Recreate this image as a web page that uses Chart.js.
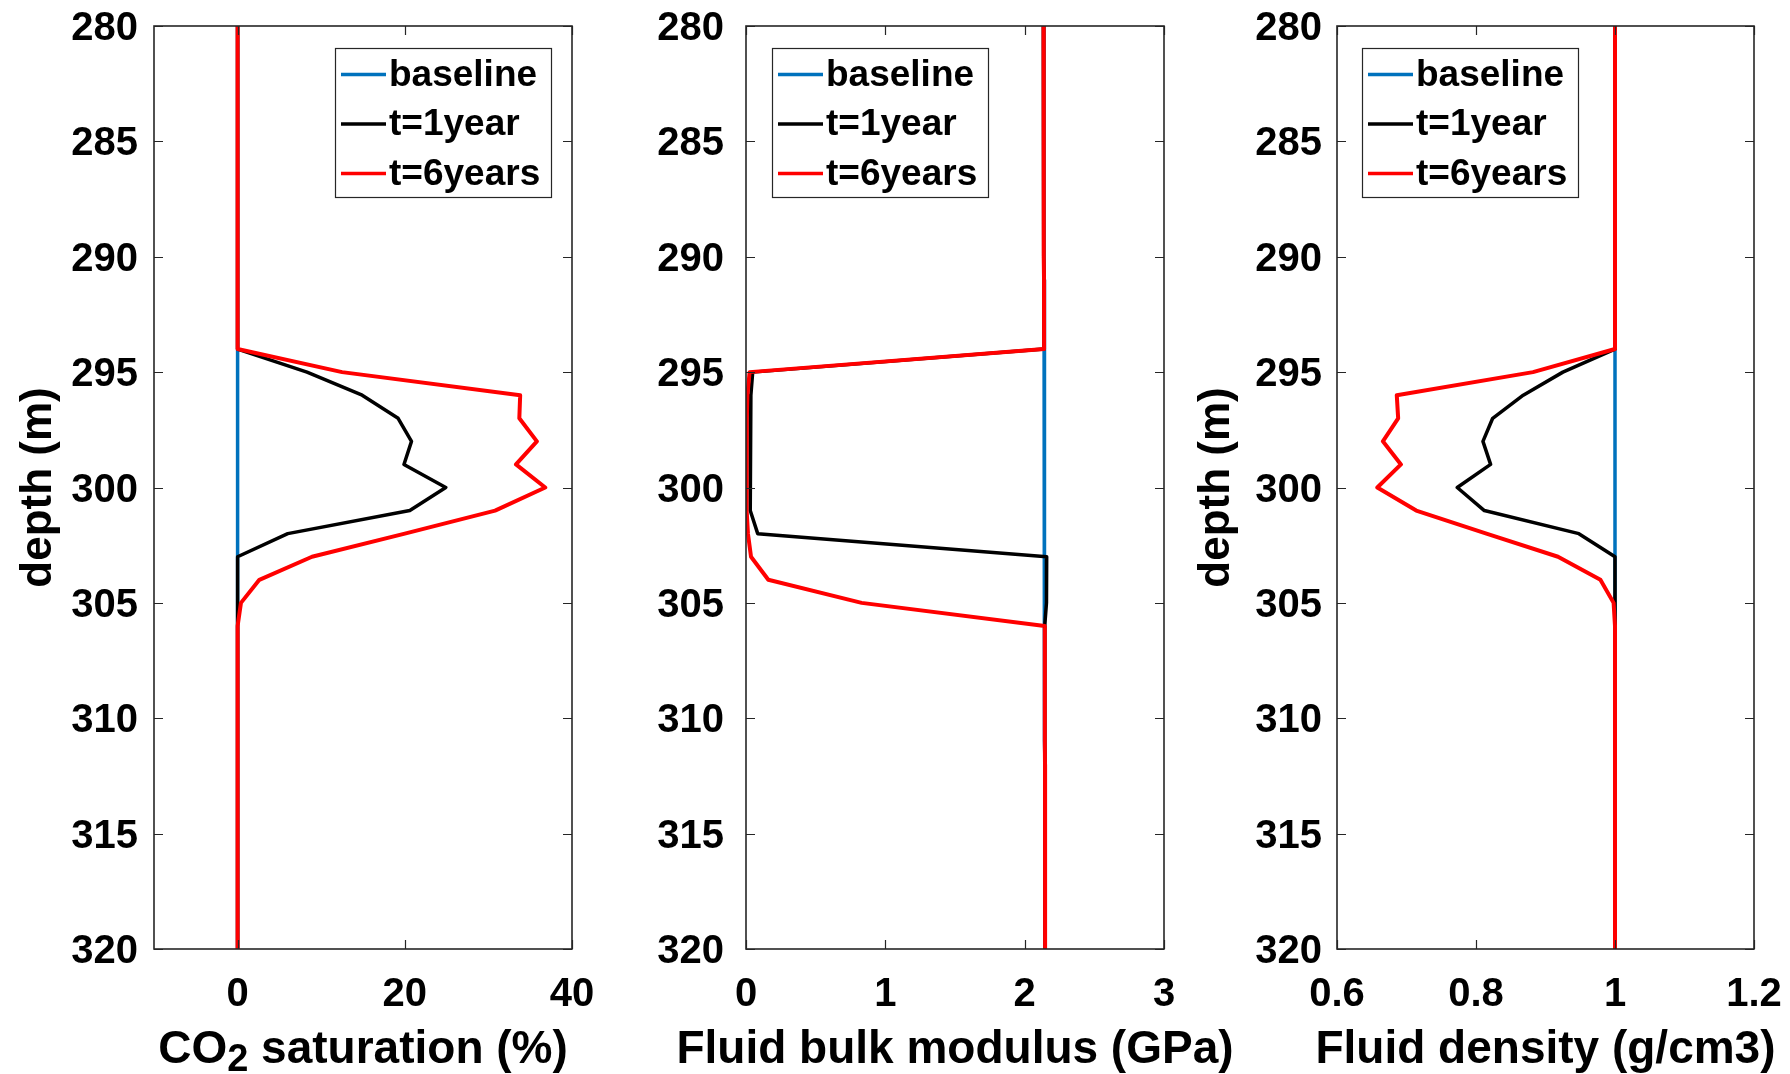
<!DOCTYPE html>
<html>
<head>
<meta charset="utf-8">
<script src="https://cdn.jsdelivr.net/npm/chart.js@4.4.1/dist/chart.umd.min.js"></script>
<style>
html,body{margin:0;padding:0;background:#fff;}
#wrap{position:relative;width:1790px;height:1074px;background:#fff;}
#wrap canvas{position:absolute;left:0;top:0;}
</style>
</head>
<body>
<div id="wrap">
<canvas id="c1" width="1790" height="1074"></canvas>
<canvas id="c2" width="1790" height="1074"></canvas>
<canvas id="c3" width="1790" height="1074"></canvas>
</div>
<script>
// ---------------- DATA ----------------
const depth = [280,281,282,283,284,285,286,287,288,289,290,291,292,293,294,295,296,297,298,299,300,
               301,302,303,304,305,306,307,308,309,310,311,312,313,314,315,316,317,318,319,320];
const seriesLabels = ['baseline', 't=1year', 't=6years'];

// CO2 saturation (%)
const satBaseline = [0,0,0,0,0,0,0,0,0,0,0,0,0,0,0,0,0,0,0,0,0,0,0,0,0,0,0,0,0,0,0,0,0,0,0,0,0,0,0,0,0];
const satYear1    = [0,0,0,0,0,0,0,0,0,0,0,0,0,0,0,8.3,14.9,19.2,20.8,19.9,24.9,20.6,6.0,0,0,0,0,0,0,0,0,0,0,0,0,0,0,0,0,0,0];
const satYear6    = [0,0,0,0,0,0,0,0,0,0,0,0,0,0,0,12.5,33.8,33.7,35.8,33.3,36.8,30.8,20.0,8.9,2.6,0.4,0,0,0,0,0,0,0,0,0,0,0,0,0,0,0];

// Fluid bulk modulus (GPa)
const bulkBaseline = [2.135,2.135,2.136,2.136,2.136,2.137,2.137,2.137,2.138,2.138,2.138,2.139,2.139,2.139,2.140,2.140,2.140,2.141,2.141,2.141,2.142,
                      2.142,2.142,2.143,2.143,2.143,2.144,2.144,2.144,2.145,2.145,2.145,2.146,2.146,2.146,2.146,2.147,2.147,2.147,2.147,2.147];
const bulkYear1    = [2.135,2.135,2.136,2.136,2.136,2.137,2.137,2.137,2.138,2.138,2.138,2.139,2.139,2.139,2.140,0.048,0.035,0.032,0.031,0.030,0.029,
                      0.030,0.084,2.158,2.157,2.156,2.144,2.144,2.144,2.145,2.145,2.145,2.146,2.146,2.146,2.146,2.147,2.147,2.147,2.147,2.147];
const bulkYear6    = [2.135,2.135,2.136,2.136,2.136,2.137,2.137,2.137,2.138,2.138,2.138,2.139,2.139,2.139,2.140,0.026,0.010,0.006,0.005,0.004,0.004,
                      0.006,0.014,0.036,0.160,0.830,2.144,2.144,2.144,2.145,2.145,2.145,2.146,2.146,2.146,2.146,2.147,2.147,2.147,2.147,2.147];

// Fluid density (g/cm3)
const densBaseline = [1,1,1,1,1,1,1,1,1,1,1,1,1,1,1,1,1,1,1,1,1,1,1,1,1,1,1,1,1,1,1,1,1,1,1,1,1,1,1,1,1];
const densYear1    = [1,1,1,1,1,1,1,1,1,1,1,1,1,1,1,0.925,0.868,0.824,0.810,0.821,0.773,0.812,0.948,1,1,1,1,1,1,1,1,1,1,1,1,1,1,1,1,1,1];
const densYear6    = [1,1,1,1,1,1,1,1,1,1,1,1,1,1,1,0.882,0.686,0.688,0.666,0.692,0.658,0.714,0.815,0.918,0.979,0.998,1,1,1,1,1,1,1,1,1,1,1,1,1,1,1];

// Ticks
const yTicks = [280,285,290,295,300,305,310,315,320];
const yTickLabels = ['280','285','290','295','300','305','310','315','320'];
const satTicks = [0,20,40];
const satTickLabels = ['0','20','40'];
const bulkTicks = [0,1,2,3];
const bulkTickLabels = ['0','1','2','3'];
const densTicks = [0.6,0.8,1.0,1.2];
const densTickLabels = ['0.6','0.8','1','1.2'];

// Axis titles
const yTitleText = 'depth (m)';
const satTitleParts = [{t: 'CO'}, {t: '2', sub: true}, {t: ' saturation (%)'}];
const bulkTitleParts = [{t: 'Fluid bulk modulus (GPa)'}];
const densTitleParts = [{t: 'Fluid density (g/cm3)'}];

// ---------------- STYLE ----------------
const FONT = '"Liberation Sans", Arial, Helvetica, sans-serif';
const COLORS = ['#0072BD', '#000000', '#FF0000'];
const WIDTHS = [3.5, 3.5, 4];
const FRAME = '#262626';

const framePlugin = {
  id: 'frameTicks',
  afterDatasetsDraw(chart) {
    const {ctx, chartArea: a, scales: {x, y}} = chart;
    ctx.save();
    ctx.strokeStyle = FRAME;
    ctx.lineWidth = 1.2;
    ctx.beginPath();
    x.ticks.forEach(t => {
      const p = Math.round(x.getPixelForValue(t.value)) + 0.5;
      ctx.moveTo(p, a.bottom); ctx.lineTo(p, a.bottom - 9);
      ctx.moveTo(p, a.top); ctx.lineTo(p, a.top + 9);
    });
    y.ticks.forEach(t => {
      const p = Math.round(y.getPixelForValue(t.value)) + 0.5;
      ctx.moveTo(a.left, p); ctx.lineTo(a.left + 9, p);
      ctx.moveTo(a.right, p); ctx.lineTo(a.right - 9, p);
    });
    ctx.stroke();
    ctx.lineWidth = 1.6;
    ctx.strokeRect(a.left, a.top, a.right - a.left, a.bottom - a.top);
    ctx.restore();
  }
};

const boxLegendPlugin = {
  id: 'boxLegend',
  afterDraw(chart, args, opts) {
    if (!opts || !opts.display) return;
    const {ctx, chartArea: a} = chart;
    const w = opts.w, h = opts.h;
    const bx = opts.side === 'right' ? a.right - opts.dx - w : a.left + opts.dx;
    const by = a.top + opts.dy;
    ctx.save();
    ctx.fillStyle = '#fff';
    ctx.fillRect(bx, by, w, h);
    ctx.strokeStyle = FRAME;
    ctx.lineWidth = 1.2;
    ctx.strokeRect(bx + 0.5, by + 0.5, w, h);
    ctx.font = 'bold 37px ' + FONT;
    ctx.textBaseline = 'middle';
    ctx.textAlign = 'left';
    chart.data.datasets.forEach((ds, i) => {
      const cy = by + 26.5 + i * 49.5;
      ctx.strokeStyle = ds.borderColor;
      ctx.lineWidth = 3.5;
      ctx.beginPath();
      ctx.moveTo(bx + 6, cy); ctx.lineTo(bx + 51, cy);
      ctx.stroke();
      ctx.fillStyle = '#000';
      ctx.fillText(ds.label, bx + 54, cy + 1);
    });
    ctx.restore();
  }
};

const xTitlePlugin = {
  id: 'xTitle',
  afterDraw(chart, args, opts) {
    if (!opts || !opts.parts) return;
    const {ctx, chartArea: a} = chart;
    const big = 'bold 46px ' + FONT, small = 'bold 38px ' + FONT;
    ctx.save();
    ctx.fillStyle = '#000';
    ctx.textBaseline = 'middle';
    ctx.textAlign = 'left';
    const widths = opts.parts.map(p => { ctx.font = p.sub ? small : big; return ctx.measureText(p.t).width; });
    const total = widths.reduce((s, w) => s + w, 0);
    let x0 = (a.left + a.right) / 2 - total / 2;
    opts.parts.forEach((p, i) => {
      ctx.font = p.sub ? small : big;
      ctx.fillText(p.t, x0, opts.y + (p.sub ? 11 : 0));
      x0 += widths[i];
    });
    ctx.restore();
  }
};

function pts(vals) { return depth.map((d, i) => ({x: vals[i], y: d})); }

function makePanel(id, p) {
  const datasets = [p.base, p.y1, p.y6].map((vals, i) => ({
    label: seriesLabels[i],
    data: pts(vals),
    borderColor: COLORS[i],
    backgroundColor: COLORS[i],
    borderWidth: WIDTHS[i],
    pointRadius: 0,
    showLine: true,
    fill: false,
    tension: 0,
    borderJoinStyle: 'round',
    order: 3 - i
  }));
  return new Chart(document.getElementById(id), {
    type: 'scatter',
    data: {datasets},
    plugins: [framePlugin, boxLegendPlugin, xTitlePlugin],
    options: {
      responsive: false,
      animation: false,
      events: [],
      layout: {padding: {left: p.padL, right: p.padR, top: 26, bottom: 0}},
      plugins: {
        legend: {display: false},
        tooltip: {enabled: false},
        boxLegend: {display: true, side: p.legSide, dx: p.legDx, dy: 22, w: 216, h: 149},
        xTitle: {parts: p.xTitleParts, y: 1050}
      },
      scales: {
        x: {
          type: 'linear', position: 'bottom',
          min: p.xMin, max: p.xMax,
          grid: {display: false, drawTicks: false},
          border: {display: false},
          afterBuildTicks: s => { s.ticks = p.xTicks.map(v => ({value: v})); },
          afterFit: s => { s.height = 125; s.paddingLeft = 0; s.paddingRight = 0; s.paddingTop = 0; s.paddingBottom = 0; },
          ticks: {
            autoSkip: false, maxRotation: 0, padding: 22, color: '#000',
            font: {family: FONT, size: 40, weight: 'bold', lineHeight: 1.2},
            callback: (v, i) => p.xTickLabels[i]
          },
          title: {display: false}
        },
        y: {
          type: 'linear', position: 'left', reverse: true,
          min: 280, max: 320,
          grid: {display: false, drawTicks: false},
          border: {display: false},
          afterBuildTicks: s => { s.ticks = yTicks.map(v => ({value: v})); },
          afterFit: s => { s.width = p.yW; s.paddingTop = 0; s.paddingBottom = 0; s.paddingLeft = 0; s.paddingRight = 0; },
          ticks: {
            autoSkip: false, padding: p.yPad, color: '#000', labelOffset: 3,
            font: {family: FONT, size: 40, weight: 'bold', lineHeight: 1.2},
            callback: (v, i) => yTickLabels[i]
          },
          title: {
            display: p.yTitle, text: yTitleText, color: '#000',
            font: {family: FONT, size: 44, weight: 'bold', lineHeight: 1},
            padding: {top: 17, bottom: 0}
          }
        }
      }
    }
  });
}

makePanel('c1', {
  base: satBaseline, y1: satYear1, y6: satYear6,
  xMin: -10, xMax: 40, xTicks: satTicks, xTickLabels: satTickLabels,
  xTitleParts: satTitleParts,
  padL: 0, yW: 154, padR: 1790 - 572, yPad: 16, yTitle: true,
  legSide: 'right', legDx: 21
});
makePanel('c2', {
  base: bulkBaseline, y1: bulkYear1, y6: bulkYear6,
  xMin: 0, xMax: 3, xTicks: bulkTicks, xTickLabels: bulkTickLabels,
  xTitleParts: bulkTitleParts,
  padL: 600, yW: 146, padR: 1790 - 1164, yPad: 22, yTitle: false,
  legSide: 'left', legDx: 26
});
makePanel('c3', {
  base: densBaseline, y1: densYear1, y6: densYear6,
  xMin: 0.6, xMax: 1.2, xTicks: densTicks, xTickLabels: densTickLabels,
  xTitleParts: densTitleParts,
  padL: 1178, yW: 159, padR: 1790 - 1754, yPad: 15, yTitle: true,
  legSide: 'left', legDx: 25
});
</script>
</body>
</html>
